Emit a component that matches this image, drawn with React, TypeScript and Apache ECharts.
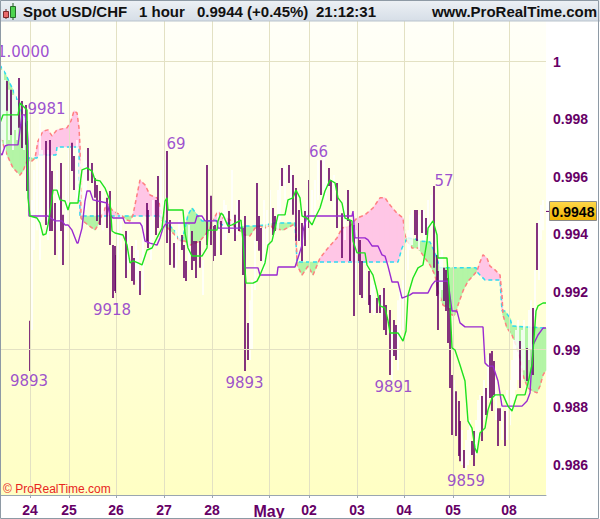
import React, { useEffect, useRef } from "react";
import * as echarts from "echarts";

// ---- axes ----
const dayTicks = [15, 34.5, 58, 82, 106, 134.5, 154.5, 178.5, 202, 226.5, 254.5];
const dayLabels = ["24", "25", "26", "27", "28", "May", "02", "03", "04", "05", "08"];
const priceTicks = [0.986, 0.988, 0.99, 0.992, 0.994, 0.996, 0.998, 1.0];
const minorTicks = [0.985, 0.986, 0.987, 0.988, 0.989, 0.99, 0.991, 0.992, 0.993, 0.994, 0.995, 0.996, 0.997, 0.998, 0.999, 1.0, 1.001];
const lastPrice = 0.9948;

// ---- hourly bars [hour index, high, low] ----
const downBars: number[][] = [
  [3.5, 0.99933, 0.99829], [5.5, 0.99902, 0.99745], [9.5, 0.99943, 0.9977], [11, 0.99863, 0.997],
  [13, 0.99849, 0.99711], [13.5, 0.99794, 0.99551], [15, 0.991, 0.98926], [23, 0.99724, 0.99433],
  [25, 0.99728, 0.99412], [26, 0.9962, 0.99412], [27.5, 0.99509, 0.99329], [30.5, 0.99648, 0.99412],
  [31.5, 0.99468, 0.99294], [36, 0.99718, 0.9962], [37, 0.99672, 0.99554], [44, 0.997, 0.99586],
  [46, 0.99648, 0.99579], [47.5, 0.99596, 0.99527], [48.5, 0.99572, 0.99447], [50, 0.99551, 0.99433],
  [53.5, 0.99527, 0.99422], [55, 0.99551, 0.99363], [56.5, 0.99363, 0.99179], [57.5, 0.9936, 0.99204],
  [58, 0.99329, 0.99197], [63, 0.99412, 0.99249], [66, 0.9936, 0.99238], [67, 0.99318, 0.99225],
  [70, 0.99273, 0.9919], [73.5, 0.99509, 0.99377], [74, 0.99485, 0.99353], [78, 0.9952, 0.99398],
  [79, 0.99603, 0.99422], [83.5, 0.9969, 0.9937], [85, 0.9945, 0.99294], [87, 0.9937, 0.99284],
  [91, 0.99398, 0.99346], [92, 0.99363, 0.99249], [93, 0.99308, 0.99238], [96, 0.99412, 0.99277],
  [97, 0.99377, 0.99308], [98, 0.99377, 0.99249], [100, 0.99377, 0.99284], [103.5, 0.99641, 0.99363],
  [105.5, 0.99534, 0.99363], [106.5, 0.99429, 0.99308], [107.5, 0.99433, 0.99325], [110.5, 0.99447, 0.99329],
  [114.5, 0.99481, 0.99405], [117.5, 0.99468, 0.99377], [119.5, 0.9952, 0.99412], [121.5, 0.99422, 0.99259],
  [122.5, 0.99464, 0.98926], [124, 0.99093, 0.98964], [128.5, 0.99579, 0.99377], [129.5, 0.99464, 0.99343],
  [130.5, 0.99422, 0.99308], [136.5, 0.99492, 0.99398], [137.5, 0.99464, 0.99412], [141, 0.99631, 0.99568],
  [144.5, 0.99641, 0.99579], [146.5, 0.99606, 0.99468], [148, 0.99561, 0.99377], [149.5, 0.99485, 0.99377],
  [151, 0.9944, 0.99308], [152.5, 0.99481, 0.9936], [154.5, 0.99589, 0.99422], [160.5, 0.99658, 0.99537],
  [164.5, 0.99631, 0.99568], [165.5, 0.99589, 0.99516], [168.5, 0.99579, 0.99422], [171, 0.99474, 0.99318],
  [174, 0.99554, 0.99447], [175, 0.9945, 0.99308], [177, 0.99433, 0.99117], [179, 0.9944, 0.99308],
  [180, 0.99381, 0.9919], [181, 0.99308, 0.99179], [184.5, 0.99273, 0.99155], [185, 0.9919, 0.99127],
  [188.5, 0.99179, 0.99127], [190, 0.9919, 0.99127], [192, 0.99214, 0.99068], [193, 0.99155, 0.99051],
  [195, 0.99138, 0.98912], [197, 0.99103, 0.98978], [198, 0.99086, 0.98964], [207.5, 0.99485, 0.99398],
  [208.5, 0.99485, 0.99377], [211, 0.99485, 0.99405], [213, 0.99457, 0.99398], [217, 0.99568, 0.99284],
  [218.5, 0.99329, 0.99186], [219, 0.99273, 0.99068], [222, 0.99284, 0.99169], [223, 0.99277, 0.99134],
  [224, 0.99249, 0.99023], [225, 0.99145, 0.98867], [226, 0.98912, 0.98704], [228, 0.98856, 0.987],
  [229.5, 0.98822, 0.98631], [230, 0.98752, 0.98613], [232, 0.98652, 0.98589], [236, 0.98683, 0.98634],
  [237, 0.98718, 0.98596], [241, 0.98839, 0.98683], [243, 0.98867, 0.98773], [245, 0.98988, 0.98832],
  [246, 0.98995, 0.98787], [247, 0.98961, 0.98843], [249, 0.98797, 0.98666], [250, 0.98797, 0.98752],
  [252.5, 0.98787, 0.98666], [260, 0.9903, 0.98867], [263.5, 0.99006, 0.98891], [266.5, 0.99145, 0.98912],
  [268.5, 0.9944, 0.99277]
];
const upBars: number[][] = [
  [0.5, 0.99971, 0.99693], [1.5, 0.99988, 0.99728], [2.5, 0.99936, 0.99658], [4.5, 0.99902, 0.99728],
  [6.5, 0.99884, 0.99693], [7.5, 0.99919, 0.99763], [8.5, 0.99867, 0.99728], [12, 0.99832, 0.99693],
  [16, 0.9952, 0.99068], [17, 0.99624, 0.99346], [18.5, 0.99658, 0.99415], [20, 0.99804, 0.99311],
  [21, 0.99693, 0.9945], [24, 0.99693, 0.99381], [28.5, 0.99624, 0.99415], [29.5, 0.99554, 0.99311],
  [33, 0.99624, 0.99381], [34.5, 0.99693, 0.99485], [38.5, 0.99728, 0.9952], [40, 0.99658, 0.9952],
  [42, 0.99693, 0.9952], [43, 0.99658, 0.99485], [51.5, 0.99554, 0.99415], [59, 0.9945, 0.99311],
  [60.5, 0.99468, 0.99346], [64, 0.99415, 0.99277], [68, 0.99381, 0.99242], [69, 0.99346, 0.99207],
  [71.5, 0.9945, 0.99207], [75.5, 0.9945, 0.99311], [76.5, 0.9952, 0.99381], [80.5, 0.99624, 0.9945],
  [82, 0.99658, 0.99415], [88, 0.99415, 0.99277], [89.5, 0.9945, 0.99311], [94.5, 0.99433, 0.99277],
  [101.5, 0.99311, 0.9919], [109, 0.99485, 0.99346], [112, 0.9952, 0.99381], [113, 0.99502, 0.99381],
  [116, 0.99624, 0.99415], [118.5, 0.9952, 0.99398], [125, 0.99172, 0.98964], [126, 0.99242, 0.98999],
  [127.5, 0.99381, 0.99207], [132, 0.9952, 0.99277], [133.5, 0.99485, 0.99363], [135, 0.99554, 0.99415],
  [139, 0.99554, 0.99415], [140, 0.99589, 0.9945], [142.5, 0.99641, 0.9952], [145.5, 0.99624, 0.99485],
  [153.5, 0.9952, 0.99381], [156, 0.99554, 0.9945], [157.5, 0.99589, 0.99468], [159, 0.99658, 0.9952],
  [162, 0.99676, 0.99554], [163, 0.99624, 0.9952], [167, 0.99606, 0.99485], [172.5, 0.9952, 0.99381],
  [178, 0.99415, 0.99242], [182.5, 0.99277, 0.99172], [186, 0.99242, 0.99138], [187, 0.99225, 0.9912],
  [191, 0.99207, 0.99103], [196, 0.99068, 0.98895], [199, 0.99172, 0.98929], [200, 0.99207, 0.99034],
  [201.5, 0.99242, 0.99068], [202.5, 0.99346, 0.99172], [204, 0.99415, 0.99277], [205, 0.99468, 0.99346],
  [206, 0.99485, 0.99363], [209.5, 0.99468, 0.99346], [212, 0.99485, 0.99381], [214, 0.9952, 0.99398],
  [215.5, 0.99537, 0.99415], [220, 0.99329, 0.99172], [221, 0.99346, 0.99207], [227, 0.98895, 0.98721],
  [231, 0.98721, 0.986], [233, 0.98686, 0.98582], [234, 0.98721, 0.986], [235, 0.98756, 0.98617],
  [238, 0.98756, 0.98634], [239, 0.98825, 0.98686], [240, 0.98843, 0.98721], [242, 0.98895, 0.98756],
  [244, 0.98982, 0.98825], [248, 0.98895, 0.98756], [251, 0.98825, 0.98686], [253.5, 0.9886, 0.98686],
  [255, 0.98895, 0.98738], [256, 0.98964, 0.98791], [257, 0.99034, 0.98825], [258, 0.99068, 0.9886],
  [259, 0.99103, 0.98895], [261, 0.99068, 0.98895], [262, 0.99103, 0.98929], [264.5, 0.99138, 0.98964],
  [265.5, 0.99172, 0.98999], [267.5, 0.99277, 0.99103], [269.5, 0.9945, 0.99242], [270.5, 0.99502, 0.99381],
  [271.5, 0.9952, 0.99415]
];

// ---- Ichimoku lines [hour index, price] ----
const tenkan: number[][] = [
  [0, 0.99787], [1.5, 0.99815], [9, 0.99815], [10, 0.99856], [11.5, 0.99846], [13.5, 0.99832], [14, 0.99527],
  [15, 0.99464], [18.5, 0.99457], [20, 0.9944], [21.5, 0.99398], [23, 0.99402], [24, 0.99433], [25.5, 0.99502],
  [26.5, 0.99554], [28.5, 0.99554], [30, 0.9952], [32.5, 0.99516], [34, 0.99485], [35, 0.99509], [39, 0.99509],
  [40, 0.99572], [41, 0.99624], [43.5, 0.99631], [46, 0.9962], [47.5, 0.99589], [50, 0.99586], [52.5, 0.99561],
  [55, 0.99516], [56, 0.99412], [57.5, 0.99405], [61.5, 0.99398], [63.5, 0.99363], [65, 0.99301], [66.5, 0.99308],
  [69, 0.99301], [71, 0.99294], [73.5, 0.99346], [76, 0.99353], [78.5, 0.99388], [81, 0.99422], [82.5, 0.99516],
  [83.5, 0.99527], [84, 0.99485], [91.5, 0.99485], [92.5, 0.99405], [94, 0.99353], [96, 0.99325], [101, 0.99325],
  [103.5, 0.99353], [104, 0.99415], [108.5, 0.99415], [109, 0.99447], [110.5, 0.99474], [111.5, 0.99468],
  [114, 0.99429], [116, 0.99433], [120.5, 0.9945], [121.5, 0.99377], [123, 0.99231], [126.5, 0.99231],
  [128.5, 0.99238], [130, 0.99259], [132.5, 0.99301], [134, 0.99363], [136, 0.99377], [137.5, 0.99422],
  [139, 0.99468], [142.5, 0.99468], [144, 0.9952], [146.5, 0.99527], [148, 0.99554], [150, 0.99527],
  [151, 0.99464], [153.5, 0.99457], [156, 0.99433], [157.5, 0.99457], [160, 0.99492], [162.5, 0.99551],
  [165, 0.99589], [167.5, 0.99579], [169, 0.99527], [171, 0.99509], [172.5, 0.99457], [176, 0.99447],
  [176.5, 0.99377], [178.5, 0.99336], [182.5, 0.99336], [183.5, 0.99294], [186.5, 0.99259], [188.5, 0.99204],
  [190, 0.99152], [192.5, 0.99145], [194, 0.991], [195, 0.99058], [199, 0.99058], [201.5, 0.9903],
  [203, 0.99065], [204, 0.9919], [206.5, 0.99249], [209, 0.99284], [211.5, 0.99294], [213.5, 0.99377],
  [214, 0.99422], [216.5, 0.99447], [218.5, 0.99398], [219, 0.99318], [223.5, 0.99318], [224, 0.99266],
  [225, 0.99155], [226, 0.99006], [227.5, 0.98999], [230, 0.98947], [232.5, 0.98891], [234, 0.98752],
  [236, 0.98728], [237.5, 0.98659], [238.5, 0.98641], [240, 0.98711], [242.5, 0.98728], [244, 0.98791],
  [246, 0.98832], [247.5, 0.98843], [251.5, 0.98843], [254, 0.98804], [256, 0.98787], [258.5, 0.98843],
  [262.5, 0.98843], [264, 0.98884], [266, 0.98947], [268, 0.99134], [269, 0.99152], [271.5, 0.99162], [273, 0.99162]
];
const kijun: number[][] = [
  [0, 0.99683], [1, 0.99676], [2.5, 0.99707], [4, 0.99711], [9, 0.99711], [11, 0.99815], [12.5, 0.99815],
  [13.5, 0.9978], [14, 0.99724], [14.5, 0.99464], [24, 0.99464], [27.5, 0.99447], [31, 0.99447], [32.5, 0.99433],
  [34, 0.99433], [36, 0.99415], [38.5, 0.9937], [39, 0.9937], [41, 0.99422], [42.5, 0.99516], [43.5, 0.99551],
  [45, 0.99551], [46.5, 0.9952], [49, 0.99516], [53.5, 0.99509], [55, 0.99468], [56.5, 0.99457], [61.5, 0.99457],
  [62.5, 0.9944], [70, 0.9944], [71, 0.99429], [72.5, 0.99377], [75, 0.9937], [78.5, 0.99363], [80, 0.99388],
  [81.5, 0.99422], [82.5, 0.99433], [83.5, 0.9944], [97.5, 0.9944], [98.5, 0.99464], [101, 0.99464],
  [102.5, 0.99447], [108.5, 0.99447], [109, 0.99422], [121.5, 0.99422], [122.5, 0.99284], [129, 0.99284],
  [130, 0.99259], [138.5, 0.99259], [139, 0.99287], [147.5, 0.99287], [149, 0.99318], [151, 0.99363],
  [151.5, 0.99412], [153.5, 0.99464], [176, 0.99464], [176.5, 0.99481], [177.5, 0.99388], [182.5, 0.99388],
  [184, 0.99381], [186, 0.9936], [189, 0.9936], [191, 0.99329], [192.5, 0.99325], [194, 0.9929], [196, 0.99235],
  [199, 0.99235], [201, 0.99179], [205, 0.9919], [206.5, 0.99197], [214, 0.99197], [216, 0.99225],
  [217.5, 0.99238], [224, 0.99238], [226, 0.99134], [228.5, 0.99134], [230, 0.99093], [232.5, 0.99079],
  [241.5, 0.99079], [242.5, 0.98954], [244, 0.98943], [246.5, 0.98943], [249, 0.98891], [251, 0.98804],
  [261, 0.98804], [263.5, 0.98822], [265, 0.9885], [266.5, 0.99016], [269, 0.99051], [271.5, 0.99075], [273, 0.99075]
];
const spanA: number[][] = [
  [0, 0.99988], [2.5, 0.99961], [6.5, 0.99902], [10, 0.99843], [12.5, 0.9979], [13.5, 0.99752], [14, 0.99665],
  [18.5, 0.99665], [19, 0.99676], [28, 0.99676], [28.5, 0.99704], [39.5, 0.99704], [40, 0.99464], [80, 0.99464],
  [81, 0.9945], [82.5, 0.99447], [86, 0.99422], [87.5, 0.99412], [89, 0.99388], [91, 0.99377], [92.5, 0.99422],
  [94, 0.99468], [96, 0.99492], [98.5, 0.99468], [101, 0.99447], [104, 0.99447], [107.5, 0.9945], [111, 0.99433],
  [114, 0.9944], [117.5, 0.99429], [119, 0.99422], [122.5, 0.99429], [127.5, 0.99429], [132.5, 0.99433],
  [137.5, 0.9944], [147.5, 0.9944], [148.5, 0.99304], [199, 0.99304], [201, 0.99353], [203.5, 0.99388],
  [207.5, 0.99384], [210, 0.99377], [215, 0.99374], [217.5, 0.99336], [220, 0.99284], [238, 0.99284],
  [239, 0.99266], [242.5, 0.99242], [250, 0.99242], [251, 0.99134], [252.5, 0.99134], [255, 0.9911],
  [256, 0.99082], [273, 0.99075]
];
const spanB: number[][] = [
  [0, 0.99735], [1, 0.99724], [3.5, 0.99676], [6.5, 0.99631], [10, 0.99606], [11.5, 0.9962], [13.5, 0.99655],
  [16, 0.99655], [17.5, 0.99665], [19, 0.99724], [21.5, 0.99759], [24, 0.99763], [26, 0.99742], [28.5, 0.99763],
  [33.5, 0.9977], [35.5, 0.99794], [37, 0.99829], [38.5, 0.99822], [39.5, 0.9977], [40, 0.99707], [40.5, 0.99457],
  [41.5, 0.99447], [44, 0.99433], [47.5, 0.99415], [49, 0.99433], [51.5, 0.99474], [53.5, 0.99509], [56, 0.99485],
  [58.5, 0.99474], [61, 0.99464], [63.5, 0.9945], [65, 0.99447], [66.5, 0.99468], [68.5, 0.99537], [70, 0.99589],
  [72.5, 0.99572], [75, 0.99537], [78.5, 0.99527], [80, 0.99502], [81, 0.99457], [81.5, 0.99429], [84, 0.99422],
  [87.5, 0.99398], [90, 0.99377], [92.5, 0.99377], [95, 0.99363], [97.5, 0.9937], [100, 0.99377], [102.5, 0.99398],
  [105, 0.99422], [106.5, 0.9945], [109, 0.99481], [111, 0.99457], [113.5, 0.99457], [116, 0.99447],
  [117.5, 0.99422], [120, 0.99412], [122.5, 0.99398], [125, 0.99395], [127.5, 0.99422], [130, 0.99429],
  [132.5, 0.99422], [135, 0.99433], [136.5, 0.99422], [141.5, 0.99415], [146.5, 0.99433], [148, 0.99422],
  [148.5, 0.99294], [151, 0.99259], [154, 0.9929], [156.5, 0.99259], [160, 0.99318], [164, 0.99353],
  [168.5, 0.99388], [171, 0.99422], [175, 0.99429], [178.5, 0.99457], [182.5, 0.99468], [186.5, 0.99492],
  [190, 0.99527], [192.5, 0.99527], [195, 0.99502], [198.5, 0.99474], [201.5, 0.99457], [202.5, 0.99398],
  [203.5, 0.99377], [206, 0.99353], [209, 0.99353], [212.5, 0.99318], [215, 0.99294], [217.5, 0.99259],
  [219, 0.99204], [221.5, 0.99155], [224, 0.99145], [226, 0.9912], [227.5, 0.9912], [229, 0.99155],
  [231.5, 0.99204], [234, 0.99238], [236.5, 0.99256], [238.5, 0.99273], [240, 0.99304], [241.5, 0.99329],
  [243.5, 0.99318], [245, 0.9929], [247.5, 0.99277], [250, 0.99259], [251, 0.9919], [251.5, 0.9912],
  [253.5, 0.99075], [256, 0.99051], [258.5, 0.99006], [260, 0.98971], [261.5, 0.98912], [262.5, 0.98891],
  [264, 0.98867], [266.5, 0.98856], [268.5, 0.9885], [270, 0.98874], [271.5, 0.98912], [273, 0.98929]
];

// ---- extreme labels [hour index, price, text] ----
const extremes: [number, number, string][] = [
  [23.25, 0.99836, "9981"], [88, 0.99714, "69"], [159.25, 0.99686, "66"], [222, 0.99586, "57"],
  [56, 0.99138, "9918"], [14.5, 0.98891, "9893"], [122.25, 0.98884, "9893"], [196.75, 0.9887, "9891"],
  [233, 0.98544, "9859"]
];
const topLabel: [number, number, string] = [0, 1.00033, "1.0000"];

const FONT = "'Liberation Sans', Arial, Helvetica, sans-serif";
const AXIS_COLOR = "#660066";

function interp(pts: number[][], x: number): number {
  if (x <= pts[0][0]) return pts[0][1];
  for (let i = 1; i < pts.length; i++) {
    if (x <= pts[i][0]) {
      const [x0, y0] = pts[i - 1];
      const [x1, y1] = pts[i];
      if (x1 === x0) return y1;
      return y0 + ((x - x0) / (x1 - x0)) * (y1 - y0);
    }
  }
  return pts[pts.length - 1][1];
}

export default function App() {
  const ref = useRef<HTMLDivElement>(null);
  useEffect(() => {
    if (!ref.current) return;
    const chart = echarts.init(ref.current, undefined, { renderer: "svg" });

    const cloudRender = (_params: any, api: any) => {
      const pa = spanA.map((p) => api.coord(p));
      const pb = spanB.map((p) => api.coord(p));
      const xs = Array.from(new Set([...pa.map((p: number[]) => p[0]), ...pb.map((p: number[]) => p[0])])).sort((a, b) => a - b);
      const GREEN = "#b4f5a6";
      const PINK = "#ffc6e6";
      const children: any[] = [];
      for (let i = 0; i < xs.length - 1; i++) {
        const x0 = xs[i], x1 = xs[i + 1];
        const a0 = interp(pa, x0), a1 = interp(pa, x1);
        const b0 = interp(pb, x0), b1 = interp(pb, x1);
        const d0 = b0 - a0, d1 = b1 - a1;
        const poly = (pts: number[][], col: string) =>
          children.push({ type: "polygon", shape: { points: pts }, style: { fill: col, stroke: col, lineWidth: 0.6 }, silent: true });
        if (d0 * d1 >= 0) {
          const col = d0 + d1 >= 0 ? GREEN : PINK;
          poly([[x0, a0], [x1, a1], [x1, b1], [x0, b0]], col);
        } else {
          const t = d0 / (d0 - d1);
          const xc = x0 + t * (x1 - x0);
          const yc = a0 + t * (a1 - a0);
          poly([[x0, a0], [xc, yc], [x0, b0]], d0 > 0 ? GREEN : PINK);
          poly([[xc, yc], [x1, a1], [x1, b1]], d1 > 0 ? GREEN : PINK);
        }
      }
      return { type: "group", children };
    };

    const barData = [
      ...upBars.map((b) => [b[0], b[1], b[2], 1]),
      ...downBars.map((b) => [b[0], b[1], b[2], 0]),
    ];

    const gridLineData = [
      ...dayTicks.map((v) => ({ xAxis: v })),
      ...priceTicks.map((v) => ({ yAxis: v })),
    ];

    const baseGraphic = (tagY: number) => [
      // header
      {
        type: "rect", shape: { x: 0, y: 0, width: 600, height: 21 }, z: 100,
        style: { fill: new echarts.graphic.LinearGradient(0, 0, 0, 1, [{ offset: 0, color: "#edf1f5" }, { offset: 1, color: "#d6dee7" }]) },
      },
      { type: "line", shape: { x1: 0, y1: 21, x2: 600, y2: 21 }, z: 101, style: { stroke: "#b9c3cc", lineWidth: 1 } },
      { type: "line", shape: { x1: 6, y1: 9, x2: 6, y2: 19 }, z: 101, style: { stroke: "#6a2020", lineWidth: 1 } },
      { type: "rect", shape: { x: 3.5, y: 11.5, width: 5, height: 6 }, z: 102, style: { fill: "#e86a6a", stroke: "#7a2a2a", lineWidth: 1 } },
      { type: "line", shape: { x1: 13, y1: 3, x2: 13, y2: 20 }, z: 101, style: { stroke: "#1f5a1f", lineWidth: 1 } },
      { type: "rect", shape: { x: 10.5, y: 6.5, width: 5, height: 11 }, z: 102, style: { fill: "#4fd44f", stroke: "#2a6a2a", lineWidth: 1 } },
      { type: "text", x: 23, y: 11, z: 102, style: { text: "Spot USD/CHF", font: `bold 15px ${FONT}`, fill: "#111", verticalAlign: "middle" } },
      { type: "text", x: 139, y: 11, z: 102, style: { text: "1 hour", font: `bold 15px ${FONT}`, fill: "#111", verticalAlign: "middle" } },
      { type: "text", x: 197, y: 11, z: 102, style: { text: "0.9944 (+0.45%)", font: `bold 15px ${FONT}`, fill: "#111", verticalAlign: "middle" } },
      { type: "text", x: 316, y: 11, z: 102, style: { text: "21:12:31", font: `bold 15px ${FONT}`, fill: "#111", verticalAlign: "middle" } },
      { type: "text", x: 597, y: 11, z: 102, style: { text: "www.ProRealTime.com", font: `bold 15px ${FONT}`, fill: "#111", align: "right", verticalAlign: "middle" } },
      // copyright
      { type: "text", x: 3, y: 489, z: 60, style: { text: "\u00a9 ProRealTime.com", font: `12px ${FONT}`, fill: "#e8251e", verticalAlign: "middle" } },
      // outer frame
      { type: "rect", shape: { x: 0.5, y: 0.5, width: 598, height: 518 }, z: 103, style: { fill: "none", stroke: "#8e9aa5", lineWidth: 1 } },
      // price tag
      { type: "line", shape: { x1: 546, y1: tagY, x2: 550, y2: tagY }, z: 60, style: { stroke: AXIS_COLOR, lineWidth: 1 } },
      {
        type: "rect", shape: { x: 549.5, y: Math.round(tagY) - 9.5, width: 47, height: 19 }, z: 60,
        style: {
          fill: new echarts.graphic.LinearGradient(0, 0, 0, 1, [{ offset: 0, color: "#ffd84a" }, { offset: 1, color: "#f0b400" }]),
          stroke: "#8a8a8a", lineWidth: 1,
        },
      },
      { type: "text", x: 573, y: Math.round(tagY) + 0.5, z: 61, style: { text: "0.9948", font: `bold 14px ${FONT}`, fill: "#000", align: "center", verticalAlign: "middle" } },
    ];

    const option: any = {
      animation: false,
      backgroundColor: "#ffffff",
      grid: {
        left: 0, right: 54, top: 21, bottom: 24, show: true, borderWidth: 0,
        backgroundColor: new echarts.graphic.LinearGradient(0, 0, 0, 1, [
          { offset: 0, color: "#fffff8" },
          { offset: 1, color: "#ffffc4" },
        ]),
      },
      xAxis: {
        type: "value", min: 0, max: 273,
        axisLine: { show: true, lineStyle: { color: "#9aa6b0", width: 1 } },
        axisTick: { show: true, customValues: dayTicks, length: 3, lineStyle: { color: "#9aa6b0" } },
        axisLabel: {
          show: true, customValues: dayTicks, margin: 8,
          color: AXIS_COLOR, fontWeight: "bold", fontSize: 14, fontFamily: FONT,
          formatter: (v: number) => {
            const i = dayTicks.findIndex((d) => Math.abs(d - v) < 0.01);
            const s = i >= 0 ? dayLabels[i] : "";
            return s === "May" ? "{m|May}" : s;
          },
          rich: { m: { fontSize: 16, fontWeight: "bold", color: AXIS_COLOR, fontFamily: FONT } },
        },
        splitLine: { show: false },
      },
      yAxis: {
        type: "value", position: "right", min: 0.984955, max: 1.00141, scale: true,
        axisLine: { show: true, lineStyle: { color: "#9aa6b0", width: 1 } },
        axisTick: { show: true, inside: true, customValues: minorTicks, length: 5, lineStyle: { color: "#9aa6b0" } },
        axisLabel: {
          show: true, customValues: priceTicks, margin: 7,
          color: AXIS_COLOR, fontWeight: "bold", fontSize: 14, fontFamily: FONT,
          formatter: (v: number) => String(Number(v.toFixed(3))),
        },
        splitLine: { show: false },
      },
      series: [
        {
          type: "line", data: [[0, 0.99]], showSymbol: false, lineStyle: { opacity: 0 }, z: 1, silent: true,
          markLine: {
            silent: true, symbol: ["none", "none"], label: { show: false },
            lineStyle: { color: "#e3e1c3", type: "solid", width: 1 },
            data: gridLineData, animation: false,
          },
        },
        {
          type: "custom", renderItem: cloudRender, data: [[0, 0.99]], z: 2, silent: true,
        },
        {
          type: "line", data: spanA, showSymbol: false, z: 3, silent: true,
          lineStyle: { color: "#2fdcf0", width: 1.5, type: [4, 3] },
        },
        {
          type: "line", data: spanB, showSymbol: false, z: 3, silent: true,
          lineStyle: { color: "#ff8080", width: 1.5, type: [4, 3] },
        },
        {
          type: "custom", data: barData, z: 4, silent: true,
          encode: { x: 0, y: [1, 2] },
          renderItem: (_p: any, api: any) => {
            const x = api.value(0);
            const hi = api.coord([x, api.value(1)]);
            const lo = api.coord([x, api.value(2)]);
            const up = api.value(3) === 1;
            return {
              type: "line",
              shape: { x1: hi[0], y1: hi[1], x2: lo[0], y2: lo[1] },
              style: { stroke: up ? "#ffffff" : "#660066", lineWidth: 1.6 },
            };
          },
        },
        {
          type: "line", data: kijun, showSymbol: false, z: 5, silent: true,
          lineStyle: { color: "#9a2ad0", width: 1.4 },
        },
        {
          type: "line", data: tenkan, showSymbol: false, z: 6, silent: true,
          lineStyle: { color: "#1ee21e", width: 1.4 },
        },
        {
          type: "scatter", z: 7, silent: true, symbolSize: 1,
          itemStyle: { color: "rgba(0,0,0,0)" },
          label: {
            show: true, position: "inside", color: "#8424c8", fontSize: 15,
            fontFamily: "'DejaVu Sans', sans-serif",
            formatter: (p: any) => p.data.value ? p.data.value[2] : p.data[2],
          },
          data: [
            ...extremes.map((e) => [e[0], e[1], e[2]]),
            { value: [topLabel[0], topLabel[1], topLabel[2]], label: { align: "left", offset: [-3, 0] } },
          ],
        },
      ],
      graphic: baseGraphic(212),
    };

    chart.setOption(option);
    const ty = chart.convertToPixel({ yAxisIndex: 0 }, lastPrice) as number;
    if (typeof ty === "number" && isFinite(ty)) {
      chart.setOption({ graphic: baseGraphic(ty) }, { replaceMerge: ["graphic"] });
    }
    return () => chart.dispose();
  }, []);

  return (
    <div
      ref={ref}
      style={{ position: "absolute", left: 0, top: 0, width: 600, height: 519 }}
    />
  );
}
